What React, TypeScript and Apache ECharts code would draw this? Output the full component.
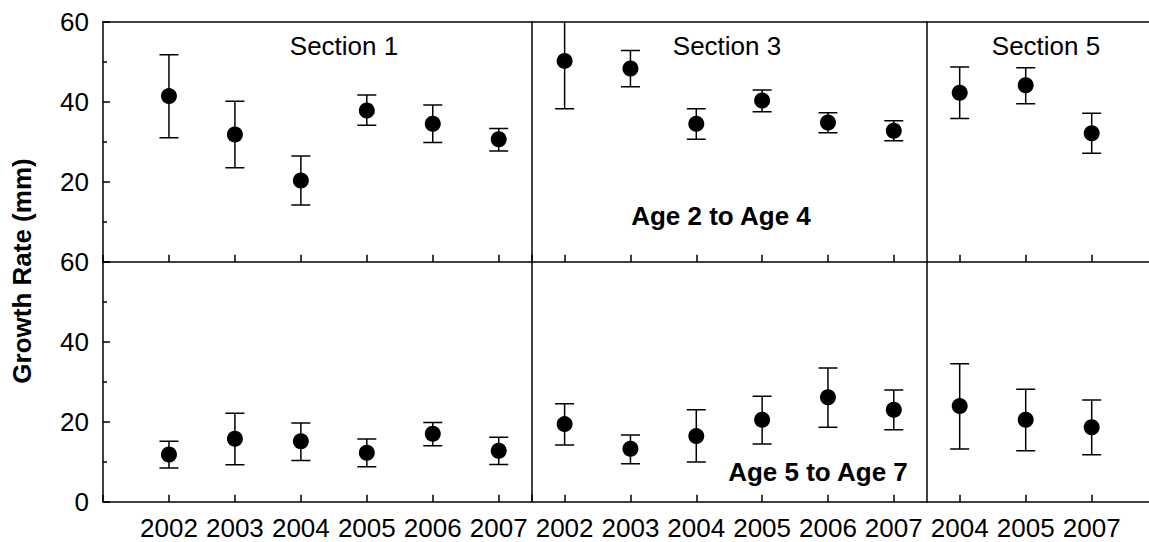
import React, { useEffect, useRef } from "react";
import * as echarts from "echarts";

// ---- data ----
const section1Years = [2002, 2003, 2004, 2005, 2006, 2007];
const section3Years = ["2002", "2003", "2004", "2005", "2006", "2007"];
const section5Years = ["2004", "2005", "2007", ""];
const sectionTitles = ["Section 1", "Section 3", "Section 5"];
const rowLabels = ["Age 2 to Age 4", "Age 5 to Age 7"];
const yTitle = "Growth Rate (mm)";

// Age 2 to Age 4 (top row)
const s1TopMean = [41.4, 31.8, 20.3, 37.8, 34.5, 30.6];
const s1TopLow = [31.0, 23.5, 14.2, 34.1, 29.8, 27.7];
const s1TopHigh = [51.75, 40.1, 26.4, 41.7, 39.2, 33.3];
const s3TopMean = [50.2, 48.3, 34.5, 40.3, 34.8, 32.75];
const s3TopLow = [38.25, 43.75, 30.6, 37.5, 32.25, 30.25];
const s3TopHigh = [62.1, 52.8, 38.25, 42.9, 37.25, 35.25];
const s5TopMean = [42.25, 44.1, 32.1];
const s5TopLow = [35.8, 39.5, 27.1];
const s5TopHigh = [48.7, 48.5, 37.1];

// Age 5 to Age 7 (bottom row)
const s1BotMean = [11.8, 15.75, 15.1, 12.25, 17.0, 12.75];
const s1BotLow = [8.4, 9.25, 10.3, 8.75, 14.0, 9.3];
const s1BotHigh = [15.1, 22.1, 19.7, 15.7, 19.8, 16.1];
const s3BotMean = [19.4, 13.25, 16.4, 20.5, 26.1, 23.0];
const s3BotLow = [14.2, 9.5, 9.9, 14.4, 18.6, 18.0];
const s3BotHigh = [24.5, 16.7, 23.0, 26.35, 33.4, 27.9];
const s5BotMean = [23.9, 20.5, 18.6];
const s5BotLow = [13.2, 12.75, 11.75];
const s5BotHigh = [34.5, 28.1, 25.4];

const FONT = "'Liberation Sans', Arial, Helvetica, sans-serif";
const FS = 26;
const LW = 1.5;

export default function App() {
  const ref = useRef<HTMLDivElement>(null);

  useEffect(() => {
    if (!ref.current) return;
    const chart = echarts.init(ref.current, undefined, { renderer: "svg" });

    const L = 103;
    const sep1 = 531.7;
    const sep2 = 926.7;
    const topY = 21.7;
    const midY = 261.7;
    const h = 240;
    const band = 66;

    const grids = [
      { left: L, top: topY, width: sep1 - L, height: h },
      { left: sep1, top: topY, width: sep2 - sep1, height: h },
      { left: sep2, top: topY, width: band * 4, height: h },
      { left: L, top: midY, width: sep1 - L, height: h },
      { left: sep1, top: midY, width: sep2 - sep1, height: h },
      { left: sep2, top: midY, width: band * 4, height: h },
    ];

    const lineStyle = { color: "#000", width: LW };
    const tickStyle = { show: true, inside: true, length: 7, lineStyle };

    const xAxes: any[] = [];
    for (let g = 0; g < 6; g++) {
      const col = g % 3;
      const isBottom = g >= 3;
      const base: any = {
        gridIndex: g,
        position: "bottom",
        axisLine: { show: true, lineStyle },
        axisTick: { ...tickStyle },
        splitLine: { show: false },
        axisLabel: {
          show: isBottom,
          color: "#000",
          fontSize: FS,
          fontFamily: FONT,
          margin: 13,
        },
      };
      if (col === 0) {
        base.type = "value";
        base.min = 2001;
        base.max = 2007.5;
        base.interval = 1;
        base.axisLabel.formatter = (v: number) =>
          Number.isInteger(v) && v >= 2002 ? String(v) : "";
      } else {
        base.type = "category";
        base.data = col === 1 ? section3Years : section5Years;
        base.boundaryGap = true;
        base.axisTick.alignWithLabel = true;
        base.axisLabel.interval = 0;
      }
      xAxes.push(base);
    }
    // top border lines for top row
    for (let g = 0; g < 3; g++) {
      const ax: any = {
        gridIndex: g,
        position: "top",
        axisLine: { show: true, lineStyle },
        axisTick: { show: false },
        axisLabel: { show: false },
        splitLine: { show: false },
      };
      if (g === 0) {
        ax.type = "value";
        ax.min = 2001;
        ax.max = 2007.5;
        ax.interval = 1;
      } else {
        ax.type = "category";
        ax.data = g === 1 ? section3Years : section5Years;
      }
      xAxes.push(ax);
    }

    const yAxes: any[] = [];
    for (let g = 0; g < 6; g++) {
      const col = g % 3;
      const isTop = g < 3;
      const first = col === 0;
      yAxes.push({
        type: "value",
        gridIndex: g,
        min: 0,
        max: 60,
        interval: 20,
        axisLine: { show: true, lineStyle },
        axisTick: first ? { ...tickStyle } : { show: false },
        minorTick: first
          ? { show: true, splitNumber: 2, length: 4, lineStyle }
          : { show: false },
        splitLine: { show: false },
        minorSplitLine: { show: false },
        axisLabel: first
          ? {
              show: true,
              color: "#000",
              fontSize: FS,
              fontFamily: FONT,
              margin: 14,
              showMinLabel: !isTop,
            }
          : { show: false },
      });
    }

    const panels = [
      { g: 0, xs: section1Years, mean: s1TopMean, lo: s1TopLow, hi: s1TopHigh },
      { g: 1, xs: null, mean: s3TopMean, lo: s3TopLow, hi: s3TopHigh },
      { g: 2, xs: null, mean: s5TopMean, lo: s5TopLow, hi: s5TopHigh },
      { g: 3, xs: section1Years, mean: s1BotMean, lo: s1BotLow, hi: s1BotHigh },
      { g: 4, xs: null, mean: s3BotMean, lo: s3BotLow, hi: s3BotHigh },
      { g: 5, xs: null, mean: s5BotMean, lo: s5BotLow, hi: s5BotHigh },
    ];

    const series: any[] = [];
    panels.forEach((p) => {
      const xOf = (i: number) => (p.xs ? p.xs[i] : i);
      series.push({
        type: "custom",
        xAxisIndex: p.g,
        yAxisIndex: p.g,
        clip: true,
        z: 2,
        encode: { x: 0, y: [1, 2] },
        data: p.mean.map((_, i) => [xOf(i), p.lo[i], p.hi[i]]),
        renderItem: (params: any, api: any) => {
          const x = api.value(0);
          const a = api.coord([x, api.value(1)]);
          const b = api.coord([x, api.value(2)]);
          const w = 9.5;
          const st = { stroke: "#000", lineWidth: LW };
          return {
            type: "group",
            children: [
              { type: "line", shape: { x1: a[0], y1: a[1], x2: b[0], y2: b[1] }, style: st },
              { type: "line", shape: { x1: a[0] - w, y1: a[1], x2: a[0] + w, y2: a[1] }, style: st },
              { type: "line", shape: { x1: b[0] - w, y1: b[1], x2: b[0] + w, y2: b[1] }, style: st },
            ],
          };
        },
      });
      series.push({
        type: "scatter",
        xAxisIndex: p.g,
        yAxisIndex: p.g,
        z: 3,
        symbol: "circle",
        symbolSize: 16,
        itemStyle: { color: "#000", opacity: 1 },
        data: p.mean.map((m, i) => [xOf(i), m]),
      });
    });

    const txt = (text: string, x: number, y: number, bold = false) => ({
      type: "text",
      x,
      y,
      style: {
        text,
        fill: "#000",
        font: `${bold ? "bold " : ""}${FS}px ${FONT}`,
        align: "center",
        verticalAlign: "middle",
      },
      z: 10,
    });

    chart.setOption({
      animation: false,
      backgroundColor: "#fff",
      grid: grids,
      xAxis: xAxes,
      yAxis: yAxes,
      series,
      graphic: [
        txt(sectionTitles[0], 344, 46),
        txt(sectionTitles[1], 727, 46),
        txt(sectionTitles[2], 1046, 46),
        txt(rowLabels[0], 721, 216, true),
        txt(rowLabels[1], 818, 472, true),
        {
          type: "text",
          x: 22,
          y: 271,
          rotation: Math.PI / 2,
          style: {
            text: yTitle,
            fill: "#000",
            font: `bold ${FS}px ${FONT}`,
            align: "center",
            verticalAlign: "middle",
          },
        },
      ],
    });

    return () => chart.dispose();
  }, []);

  return (
    <div
      style={{
        position: "fixed",
        left: 0,
        top: 0,
        width: 1149,
        height: 542,
        overflow: "hidden",
        background: "#fff",
      }}
    >
      <div ref={ref} style={{ width: 1220, height: 542 }} />
    </div>
  );
}
